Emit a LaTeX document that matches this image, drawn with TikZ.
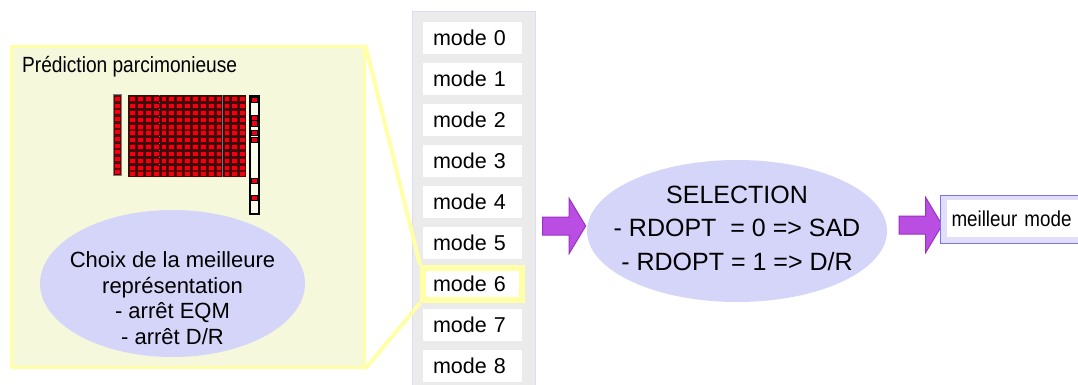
\documentclass[tikz,border=0pt]{standalone}
\usepackage{fontspec}
\setmainfont{Liberation Sans}
\newfontfamily\narrowsf[FakeStretch=0.87]{Liberation Sans}
\usetikzlibrary{shapes.geometric,shapes.arrows}
\definecolor{panelfill}{HTML}{F6F8DC}
\definecolor{paneledge}{HTML}{FFFFA8}
\definecolor{lavender}{HTML}{D5D5FA}
\definecolor{modegray}{HTML}{EBEBEB}
\definecolor{modeedge}{HTML}{DCDCF4}
\definecolor{arrowfill}{HTML}{BB4EE2}
\definecolor{arrowedge}{HTML}{9B30C6}
\definecolor{bestedge}{HTML}{7474EC}
\definecolor{bestband}{HTML}{E2DEFA}
\definecolor{cellred}{HTML}{F00010}
\tikzset{
  modebox/.style={fill=white, minimum height=32pt, text width=79pt, inner xsep=10pt,
    inner ysep=0pt, align=left, font=\fontsize{21.5}{24}\selectfont},
  bulle/.style={ellipse, fill=lavender, inner sep=0pt},
  bigarrow/.style={single arrow, fill=arrowfill, draw=arrowedge, line width=1pt,
    minimum height=43pt, inner sep=0pt, inner ysep=8.5pt,
    single arrow head extend=18.5pt, single arrow tip angle=118},
  zoomline/.style={draw=paneledge, line width=4pt},
  redcell/.style={fill=cellred, draw=black!60!red, line width=0.4pt}
}
\begin{document}
\begin{tikzpicture}[x=1pt,y=-1pt]
  \clip (0,0) rectangle (1078,385);
  % Modes
  \filldraw[fill=modegray, draw=modeedge, line width=1pt] (412,12) rectangle (535,392);
  \foreach \i in {0,1,2,3,4,5,7,8}
    \node[modebox] (mode\i) at (472.5,{38+41*\i}) {mode \i};
  \node[modebox, draw=paneledge, line width=6pt] (mode6) at (472.5,284) {mode 6};
  % Panel
  \node[draw=paneledge, fill=panelfill, line width=3pt, minimum width=353pt,
    minimum height=320pt] (panel) at (187.5,207) {};
  \node[anchor=base west, inner sep=0pt, font=\narrowsf\fontsize{22}{26}\selectfont]
    (titre) at (22,73) {Prédiction parcimonieuse};
  % Blocks
  \filldraw[fill=black!85, draw=gray, line width=1pt] (113,95) rectangle (121,175);
  \foreach \j in {0,...,11}
    \filldraw[redcell] (114,{96.3+\j*6.67}) rectangle +(6,4.8);
  \fill[black!90] (128,95) rectangle (246,177);
  \foreach \x in {159.5,222.5}
    \draw[black!55, line width=0.8pt] (\x,95) -- (\x,177);
  \foreach \i in {0,...,14}
    \foreach \j in {0,...,11}
      \filldraw[redcell] ({129.3+\i*7.87},{96.4+\j*6.83}) rectangle +(5.8,5);
  \filldraw[fill=panelfill!60!white, draw=black, line width=1.2pt] (250,96) rectangle (259,214);
  \foreach \c in {100,118,123.5,133,139.5,181,198}
    \filldraw[redcell, draw=black, line width=0.8pt] (251.5,{\c-2.6}) rectangle (257.5,{\c+2.6});
  \node[bulle, minimum width=265pt, minimum height=147pt] (choix) at (172.5,283.5) {};
  \node[align=center, inner sep=0pt, font=\fontsize{22}{25.7}\selectfont] (choixtxt)
    at (172.5,298) {Choix de la meilleure\\représentation\\- arrêt EQM\\- arrêt D/R};
  % Zoom lines
  \draw[zoomline] (panel.north east) -- (mode6.north west);
  \draw[zoomline] (panel.south east) -- (mode6.south west);
  % Selection
  \node[bigarrow] (flecheA) at (561.5,226) {};
  \node[bulle, minimum width=300pt, minimum height=142pt] (select) at (737,231) {};
  \node[align=center, inner sep=0pt, font=\fontsize{25}{33.5}\selectfont] (selecttxt)
    at (737,228) {SELECTION\\- RDOPT\ \ = 0 => SAD\\- RDOPT = 1 => D/R};
  \node[bigarrow] (flecheB) at (918,225) {};
  % Result
  \node[draw=bestedge, fill=bestband, line width=1pt, minimum height=48pt,
    text width=140pt, inner xsep=11pt, align=left, anchor=west,
    font=\narrowsf\fontsize{21.6}{24}\selectfont,
    path picture={\fill[white] ([shift={(6pt,-5pt)}]path picture bounding box.north west)
      rectangle ([shift={(-6pt,6pt)}]path picture bounding box.south east);}]
    (best) at (940,219) {meilleur mode};
\end{tikzpicture}
\end{document}
